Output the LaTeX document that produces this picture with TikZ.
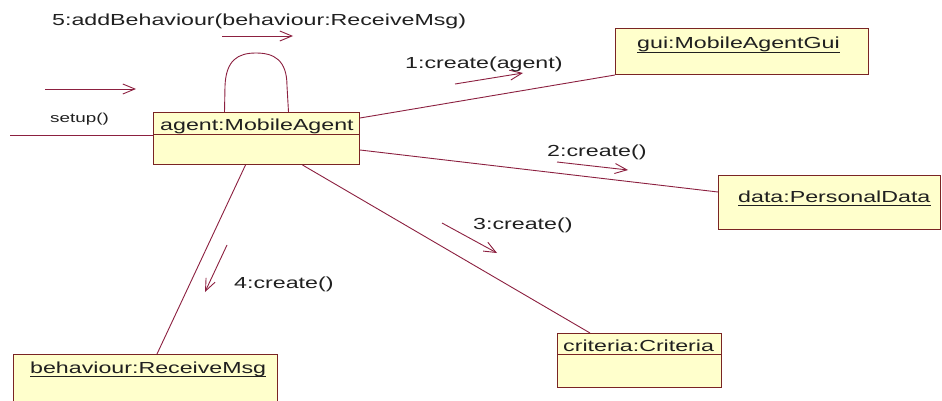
\documentclass[tikz,border=0pt]{standalone}
\usepackage{fontspec}
\setmainfont{Liberation Sans}
\usetikzlibrary{arrows.meta}
\definecolor{wire}{HTML}{8C2040}
\definecolor{boxedge}{HTML}{7A2424}
\definecolor{boxfill}{HTML}{FFFFCC}
\definecolor{ink}{HTML}{202020}
% wide sans lettering used throughout the diagram
\newcommand\widetxt[1]{\scalebox{1.45}[1]{#1}}

\begin{document}
\begin{tikzpicture}[x=1pt,y=-1pt,
  objbox/.style={draw=boxedge, fill=boxfill, line width=1pt, rectangle, inner sep=0pt, anchor=north west},
  objname/.style={inner sep=0pt, anchor=base west, text=ink, font=\fontsize{16}{18}\selectfont},
  link/.style={draw=wire, line width=0.9pt},
  msg/.style={draw=wire, line width=0.9pt, -{Straight Barb[length=12pt,width=10pt]}},
  msglabel/.style={inner sep=0pt, anchor=base west, text=ink, font=\fontsize{16}{18}\selectfont},
  smalllabel/.style={inner sep=0pt, anchor=base west, text=ink, font=\fontsize{13}{15}\selectfont},
  uline/.style={draw=ink, line width=0.8pt},
]
\useasboundingbox (0,0) rectangle (942,401);
\fill[white] (0,0) rectangle (942,401);

% ---------- object boxes ----------
\node[objbox, minimum width=206pt, minimum height=52pt] (agent) at (153,112) {};
\node[objbox, minimum width=253pt, minimum height=46pt] (gui) at (615,28) {};
\node[objbox, minimum width=222pt, minimum height=54pt] (data) at (718,175) {};
\node[objbox, minimum width=164pt, minimum height=54pt] (criteria) at (557,333) {};
\node[objbox, minimum width=264pt, minimum height=54pt] (behav) at (13,354) {};

% compartment dividers
\draw[boxedge, line width=1pt] ([yshift=-23pt]agent.north west) -- ([yshift=-23pt]agent.north east);
\draw[boxedge, line width=1pt] ([yshift=-21pt]criteria.north west) -- ([yshift=-21pt]criteria.north east);

% object names
\node[objname] (agentname) at (160,131) {\widetxt{agent:MobileAgent}};
\node[objname] (guiname) at (637,49) {\widetxt{gui:MobileAgentGui}};
\draw[uline] ([yshift=-3pt]guiname.base west) -- ([yshift=-3pt]guiname.base east);
\node[objname] (dataname) at (738,202) {\widetxt{data:PersonalData}};
\draw[uline] ([yshift=-3pt]dataname.base west) -- ([yshift=-3pt]dataname.base east);
\node[objname] (critname) at (563,351) {\widetxt{criteria:Criteria}};
\node[objname] (behavname) at (30,373) {\widetxt{behaviour:ReceiveMsg}};
\draw[uline] ([yshift=-3pt]behavname.base west) -- ([yshift=-3pt]behavname.base east);

% ---------- links ----------
\coordinate (setupin) at (10,135);
\draw[link] (setupin) -- ([yshift=-23pt]agent.north west);
\draw[link] ([yshift=-6pt]agent.north east) -- (gui.south west);
\draw[link] ([yshift=-38pt]agent.north east) -- ([yshift=-17pt]data.north west);
\draw[link] ([xshift=46pt]agent.south) -- ([xshift=33pt]criteria.north west);
\draw[link] ([xshift=-11pt]agent.south) -- ([xshift=144pt]behav.north west);
% self link
\draw[link] ([xshift=-32pt]agent.north) -- (225,86)
  .. controls (226,60) and (238,53) .. (256,53)
  .. controls (274,53) and (287,60) .. (287,86)
  -- ([xshift=32pt]agent.north);

% ---------- messages ----------
\coordinate (m5a) at (222,36);  \coordinate (m5b) at (293,36);
\coordinate (msa) at (45,89);   \coordinate (msb) at (136,89);
\coordinate (m1a) at (455,84);  \coordinate (m1b) at (523,73);
\coordinate (m2a) at (557,162); \coordinate (m2b) at (628,170);
\coordinate (m3a) at (442,223); \coordinate (m3b) at (497,253);
\coordinate (m4a) at (227,245); \coordinate (m4b) at (205,292);
\draw[msg] (m5a) -- (m5b);
\draw[msg] (msa) -- (msb);
\draw[msg] (m1a) -- (m1b);
\draw[msg] (m2a) -- (m2b);
\draw[msg] (m3a) -- (m3b);
\draw[msg] (m4a) -- (m4b);

\node[msglabel] (l5) at (52,26) {\widetxt{5:addBehaviour(behaviour:ReceiveMsg)}};
\node[smalllabel] (ls) at (50,123) {\widetxt{setup()}};
\node[msglabel] (l1) at (405,69) {\widetxt{1:create(agent)}};
\node[msglabel] (l2) at (547,157) {\widetxt{2:create()}};
\node[msglabel] (l3) at (473,229) {\widetxt{3:create()}};
\node[msglabel] (l4) at (234,288) {\widetxt{4:create()}};
\end{tikzpicture}
\end{document}
